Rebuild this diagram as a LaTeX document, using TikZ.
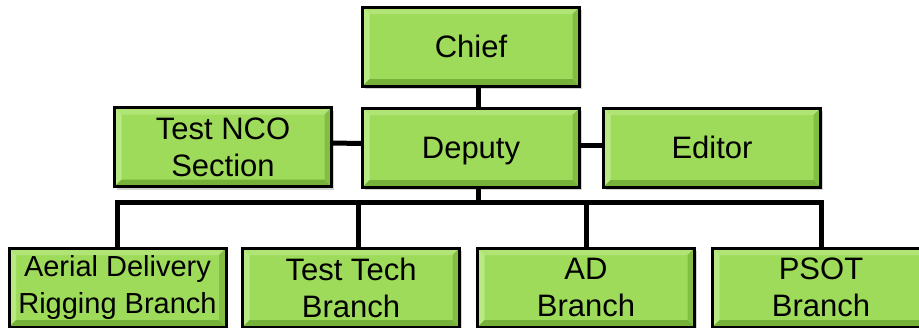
\documentclass[tikz,border=0pt]{standalone}
\usepackage{fontspec}
\setmainfont{Liberation Sans}
\usetikzlibrary{shadows}
\definecolor{boxgreen}{RGB}{158,219,90}
\definecolor{bevlight}{RGB}{184,233,130}
\definecolor{bevtop}{RGB}{176,229,118}
\definecolor{bevdark}{RGB}{118,178,58}
\definecolor{bevright}{RGB}{130,190,68}
\tikzset{
  orgbox/.style={draw=black, line width=3pt, fill=boxgreen, minimum width=217pt, minimum height=79pt,
    inner sep=0pt, align=center, font=\fontsize{31}{37}\selectfont,
    drop shadow={shadow xshift=2pt, shadow yshift=-3pt, opacity=0.35},
    path picture={
      \coordinate (NW) at (path picture bounding box.north west);
      \coordinate (NE) at (path picture bounding box.north east);
      \coordinate (SW) at (path picture bounding box.south west);
      \coordinate (SE) at (path picture bounding box.south east);
      \fill[bevtop] (NW) -- (NE) -- ([shift={(-7pt,-7pt)}]NE) -- ([shift={(7pt,-7pt)}]NW) -- cycle;
      \fill[bevlight] (NW) -- (SW) -- ([shift={(7pt,7pt)}]SW) -- ([shift={(7pt,-7pt)}]NW) -- cycle;
      \fill[bevdark] (SW) -- (SE) -- ([shift={(-7pt,7pt)}]SE) -- ([shift={(7pt,7pt)}]SW) -- cycle;
      \fill[bevright] (NE) -- (SE) -- ([shift={(-7pt,7pt)}]SE) -- ([shift={(-7pt,-7pt)}]NE) -- cycle;
    }},
  smalltext/.style={font=\fontsize{29}{37}\selectfont},
  conn/.style={draw=black, line width=5pt}
}
\begin{document}
\begin{tikzpicture}[x=1pt,y=-1pt]
\useasboundingbox (0,0) rectangle (919,327);
\coordinate (bus) at (478,202);
\node[orgbox] (chief) at (471,46.5) {Chief};
\node[orgbox,text depth=0pt] (deputy) at (471,147.5) {Deputy};
\node[orgbox] (nco) at (223,147) {Test NCO\\Section};
\node[orgbox] (editor) at (712,147.5) {Editor};
\node[orgbox,smalltext] (aerial) at (117.5,287.5) {Aerial Delivery\\Rigging Branch};
\node[orgbox] (tech) at (351,287.5) {Test Tech\\Branch};
\node[orgbox] (ad) at (586,287.5) {AD\\Branch};
\node[orgbox] (psot) at (821,287.5) {PSOT\\Branch};
\draw[conn] ([xshift=7pt]chief.south) -- ([xshift=7pt]deputy.north);
\draw[conn] ([yshift=4pt]nco.east) -- ([yshift=4pt]deputy.west);
\draw[conn] ([yshift=2pt]deputy.east) -- ([yshift=2pt]editor.west);
\draw[conn] ([xshift=7pt]deputy.south) -- (bus);
\draw[conn] (aerial.north) -- (aerial.north |- bus) -- (psot.north |- bus) -- (psot.north);
\draw[conn] ([xshift=7pt]tech.north) -- ([xshift=7pt]tech.north |- bus);
\draw[conn] (ad.north) -- (ad.north |- bus);
\end{tikzpicture}
\end{document}
